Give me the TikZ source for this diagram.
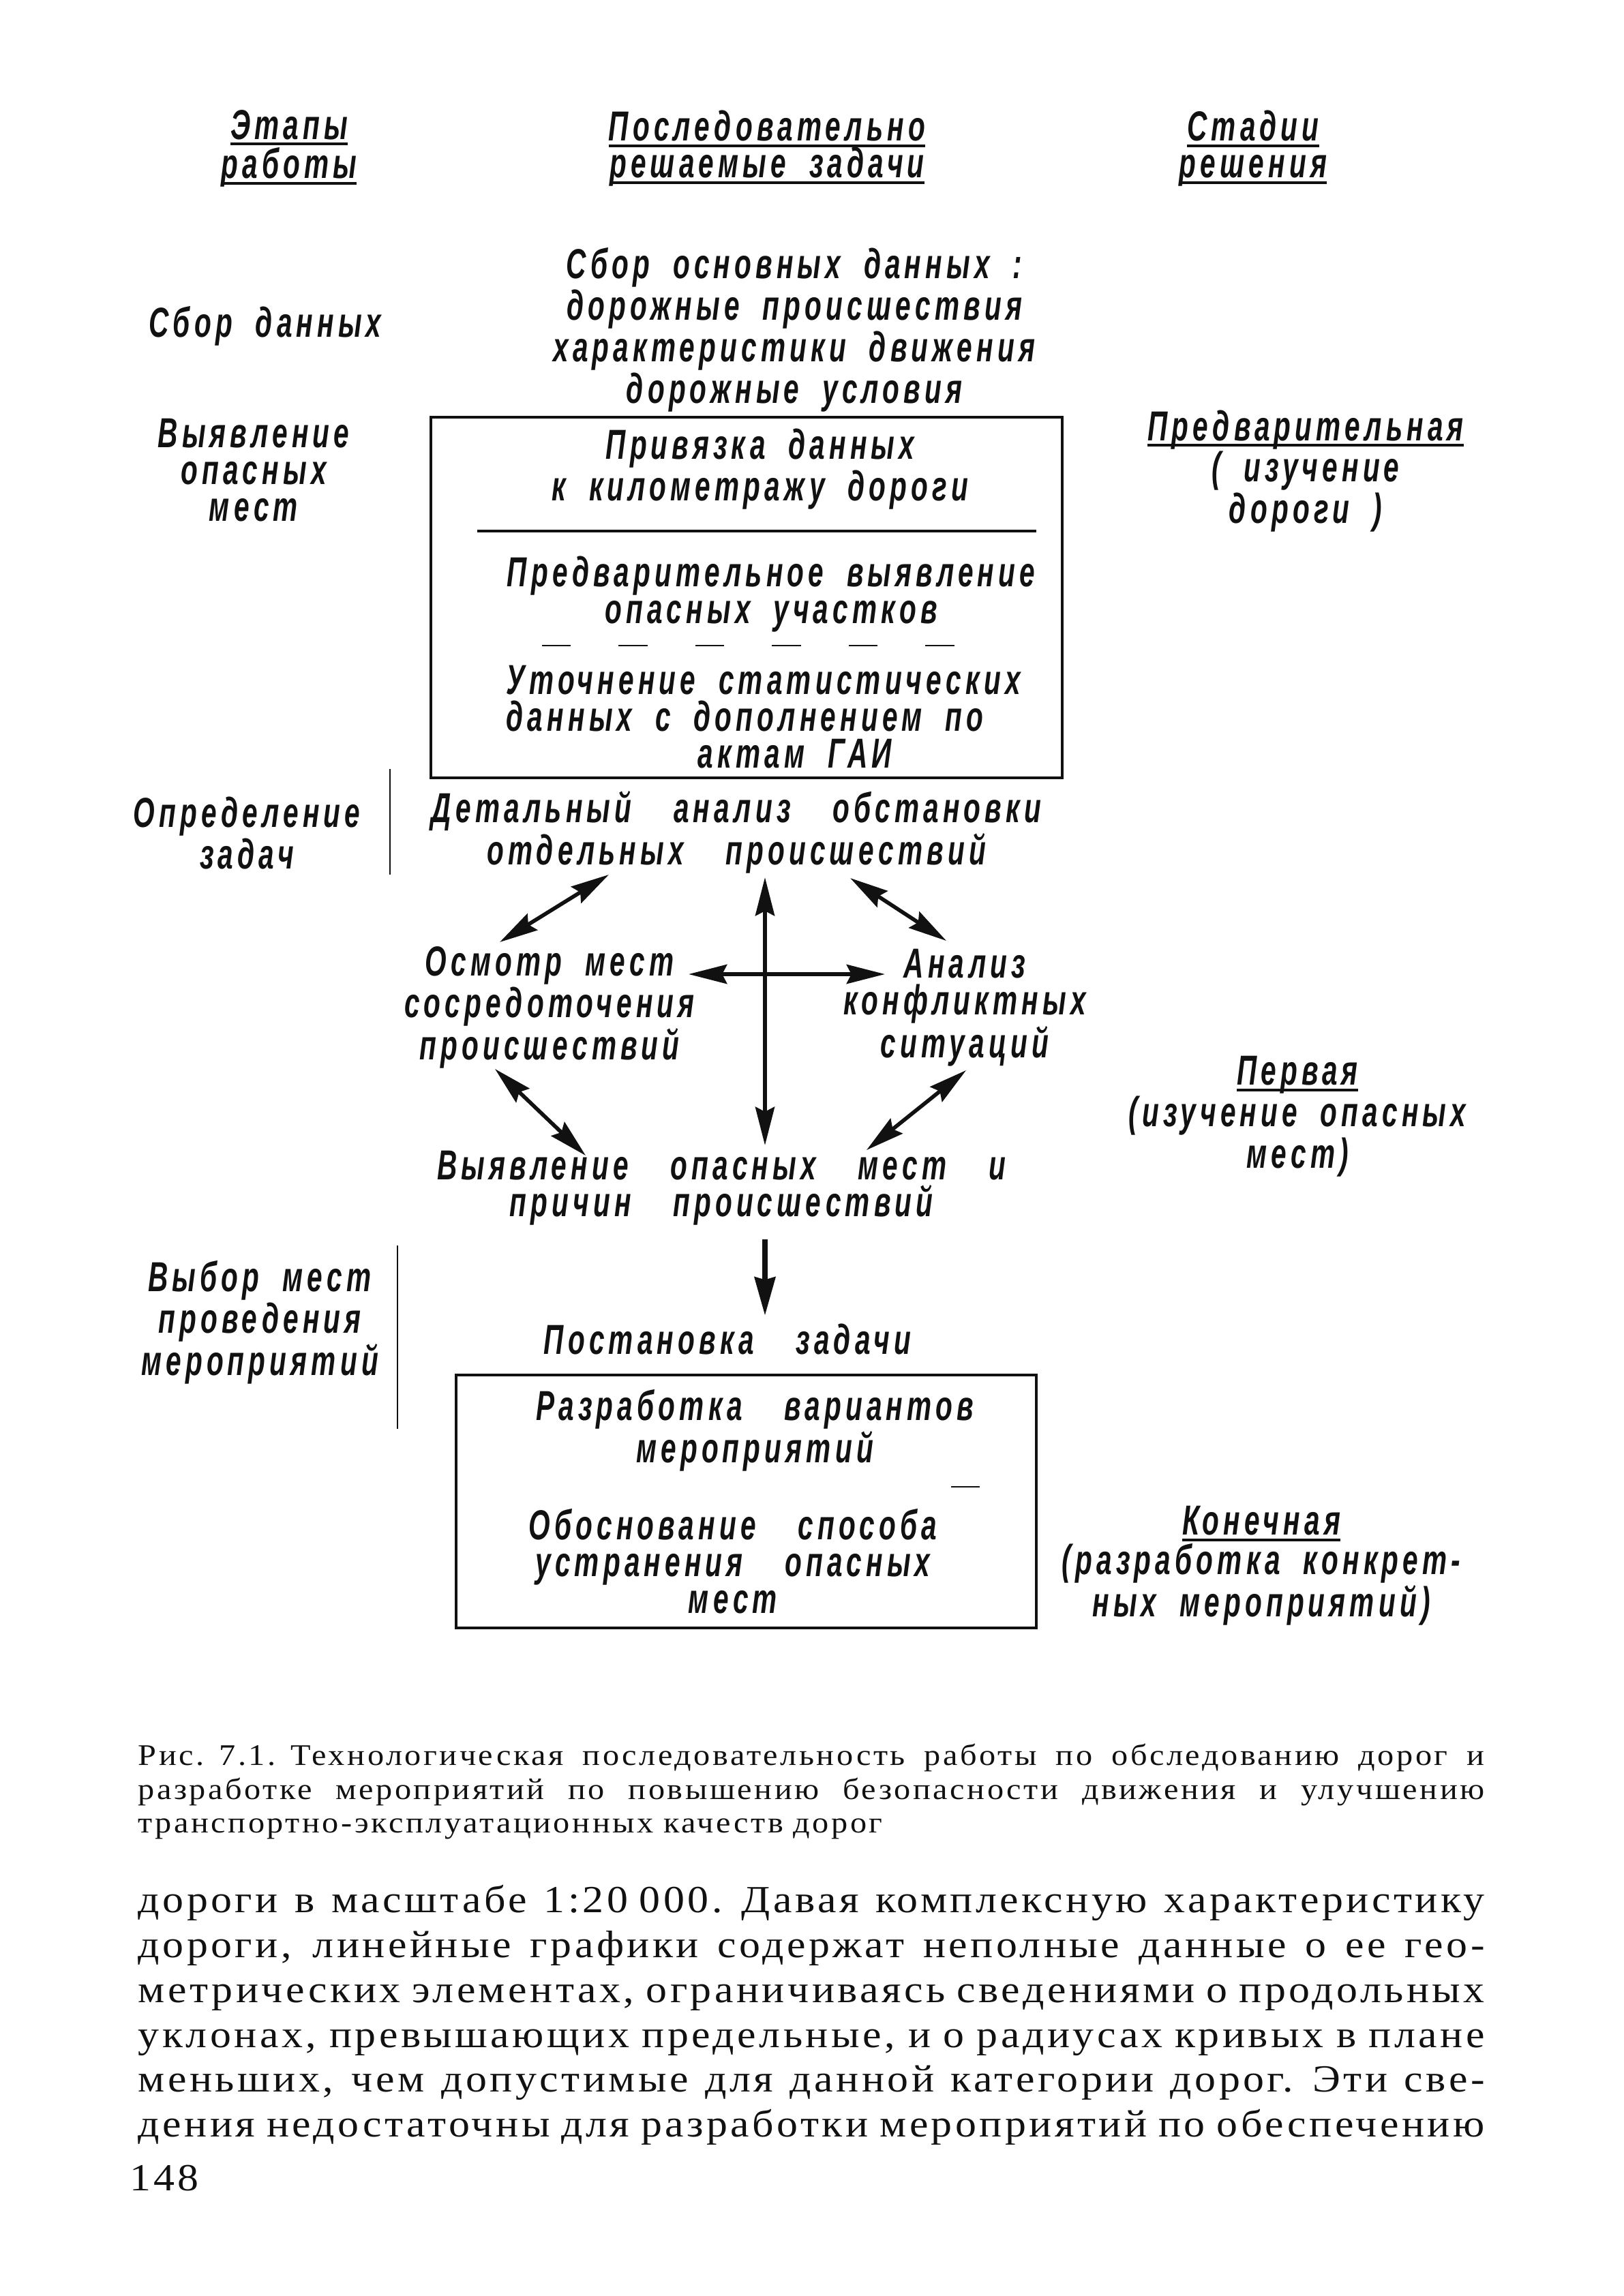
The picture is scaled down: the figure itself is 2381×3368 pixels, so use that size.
\documentclass[tikz,border=0pt]{standalone}
\usepackage{xcolor}
\usepackage{fontspec}
\usepackage{tikz}
\usetikzlibrary{arrows.meta, fit, calc}
\setmainfont{Liberation Serif}
\newfontfamily\draftfont[FakeStretch=0.66, LetterSpace=10]{Liberation Sans}
\newfontfamily\bookfont[FakeStretch=1.1, LetterSpace=8]{Liberation Serif}
\definecolor{ink}{HTML}{111111}
\newcommand{\ruled}[1]{\setbox0=\hbox{#1}\rlap{\rule[-2.6pt]{\wd0}{1.2pt}}\box0}
\newcommand{\fullline}[1]{\leavevmode\hbox to 197.5mm{\spaceskip=0.28em plus 1fil minus 0.1em\relax #1}}
\newcommand{\draftsize}{\draftfont\bfseries\itshape\fontsize{17.5}{15.4}\selectfont}
\newcommand{\wordgap}{\spaceskip=0.55em plus 0.2em\relax}
\newcommand{\widegap}{\spaceskip=1em plus 0.2em\relax}
\tikzset{
  task/.style={
    font={\draftsize\wordgap},
    align=center, inner sep=0pt, text=ink,
  },
  spaced/.style={task, font={\draftsize\widegap}},
  colhead/.style={task},
  boxframe/.style={draw=ink, line width=1.4pt, inner sep=0pt},
  divider/.style={draw=ink, line width=1pt},
  worn/.style={draw=ink, line width=0.7pt, dash pattern=on 12pt off 20pt},
  colrule/.style={draw=ink, line width=0.6pt},
  link/.style={{Stealth[length=16pt,width=8pt,inset=2pt]}-{Stealth[length=16pt,width=8pt,inset=2pt]},
    line width=1.6pt, draw=ink},
  flow/.style={-{Stealth[length=16pt,width=8.5pt,inset=1pt]}, line width=2.4pt, draw=ink},
  captext/.style={font=\bookfont\fontsize{12.5}{14.2}\selectfont, text width=197.5mm,
    align=left, inner sep=0pt, anchor=north west, text=ink},
  bodytext/.style={font=\bookfont\fontsize{16}{18.7}\selectfont, text width=197.5mm,
    align=left, inner sep=0pt, anchor=north west, text=ink},
}
\begin{document}
\begin{tikzpicture}[x=0.1mm, y=-0.1mm]
  \useasboundingbox (0,0) rectangle (2381,3368);

  % column heads
  \node[colhead] (hstage) at (424,218) {\ruled{Этапы}\\\ruled{работы}};
  \node[colhead] (htask) at (1125,218) {\ruled{Последовательно}\\\ruled{решаемые задачи}};
  \node[colhead] (hphase) at (1838,218) {\ruled{Стадии}\\\ruled{решения}};

  % stages of work
  \node[task] (sbor) at (389,478) {Сбор данных};
  \node[task] (vyyav) at (372,690) {Выявление\\опасных\\мест};
  \node[task] (opred) at (362,1222) {Определение\\задач};
  \node[task] (vybor) at (381,1940) {Выбор мест\\проведения\\мероприятий};

  % tasks
  \node[task] (collect) at (1165,484) {Сбор основных данных :\\дорожные происшествия\\характеристики движения\\дорожные условия};
  \node[boxframe, fit={(632,612) (1558,1141)}] (locbox) {};
  \node[task] (privyazka) at (1115,688) {Привязка данных\\к километражу дороги};
  \node[task] (predv) at (1131,872) {Предварительное выявление\\опасных участков};
  \node[task, align=left, anchor=west] (utoch) at (742,1052) {Уточнение статистических\\данных с дополнением по\\\hspace*{80pt}актам ГАИ};
  \node[spaced] (detail) at (1080,1221) {Детальный анализ обстановки\\отдельных происшествий};
  \node[task] (osmotr) at (806,1478) {Осмотр мест\\сосредоточения\\происшествий};
  \node[task] (analiz) at (1415,1478) {Анализ\\конфликтных\\ситуаций};
  \node[spaced] (vyavl) at (1058,1743) {Выявление опасных мест и\\причин происшествий};
  \node[spaced] (postan) at (1067,1964) {Постановка задачи};
  \node[boxframe, fit={(669,2017) (1520,2388)}] (planbox) {};
  \node[spaced] (razrab) at (1107,2098) {Разработка вариантов\\мероприятий};
  \node[spaced] (obosn) at (1075,2290) {Обоснование способа\\устранения опасных\\мест};

  % stages of solution
  \node[task] (prelim) at (1915,691) {\ruled{Предварительная}\\( изучение\\дороги )};
  \node[task] (pervaya) at (1903,1638) {\ruled{Первая}\\(изучение опасных\\мест)};
  \node[task] (konech) at (1850,2297) {\ruled{Конечная}\\(разработка конкрет-\\ных мероприятий)};

  \draw[divider] (700,779) -- (1520,779);
  \draw[worn] (795,947) -- (1408,947);
  \draw[worn] (1395,2181) -- (1495,2181);
  \draw[colrule] (572,1128) -- (572,1283);
  \draw[colrule] (583,1827) -- (583,2096);

  \draw[link] ($(detail)+(-187,62)$) -- ($(osmotr)+(-73,-96)$);
  \draw[link] ($(detail)+(42,66)$) -- ($(vyavl)+(64,-63)$);
  \draw[link] ($(detail)+(167,67)$) -- ($(analiz)+(-27,-98)$);
  \draw[link] ($(osmotr)+(204,-49)$) -- ($(analiz)+(-117,-49)$);
  \draw[link] ($(osmotr)+(-80,90)$) -- ($(vyavl)+(-199,-48)$);
  \draw[link] ($(analiz)+(2,92)$) -- ($(vyavl)+(213,-56)$);
  \draw[flow] ($(vyavl)+(64,75)$) -- ($(postan)+(55,-34)$);

  % caption and page text
  \node[captext] (caption) at (202,2557) {\fullline{Рис. 7.1. Технологическая последовательность работы по обследованию дорог и}\\
    \fullline{разработке мероприятий по повышению безопасности движения и улучшению}\\
    транспортно-эксплуатационных качеств дорог};
  \node[bodytext] (page) at (202,2765) {\fullline{дороги в масштабе 1:20\hspace{0.3em}000. Давая комплексную характеристику}\\
    \fullline{дороги, линейные графики содержат неполные данные о ее гео-}\\
    \fullline{метрических элементах, ограничиваясь сведениями о продольных}\\
    \fullline{уклонах, превышающих предельные, и о радиусах кривых в плане}\\
    \fullline{меньших, чем допустимые для данной категории дорог. Эти све-}\\
    \fullline{дения недостаточны для разработки мероприятий по обеспечению}};
  \node[bodytext, anchor=center, text width=] (pagenum) at (241,3195) {148};

\end{tikzpicture}
\end{document}
